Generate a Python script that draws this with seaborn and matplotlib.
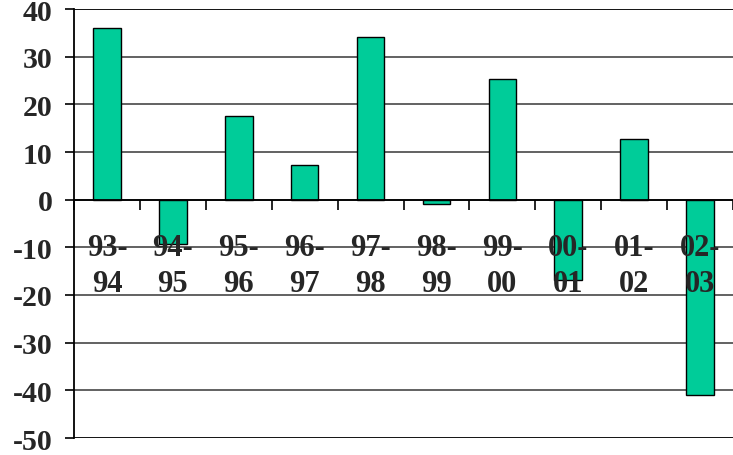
import numpy as np
import pandas as pd
import seaborn as sns
import matplotlib.pyplot as plt

# fiscal year labels and % change values
years = ["93-\n94", "94-\n95", "95-\n96", "96-\n97", "97-\n98",
         "98-\n99", "99-\n00", "00-\n01", "01-\n02", "02-\n03"]
values = [36.0, -9.2, 17.6, 7.3, 34.2, -1.0, 25.4, -16.8, 12.8, -40.9]
yticks = [-50, -40, -30, -20, -10, 0, 10, 20, 30, 40]

df = pd.DataFrame({"year": years, "value": values})

sns.set_style("white")
plt.rcParams["font.family"] = ["Liberation Serif", "DejaVu Serif"]
plt.rcParams["font.weight"] = "bold"

fig = plt.figure(figsize=(7.33, 4.56), dpi=100)
ax = fig.add_axes([74 / 733, 1 - 439 / 456, 659 / 733, 429 / 456])

# gridlines
for t in yticks:
    ax.axhline(t, color="#555555" if t not in (-50, 40) else "black",
               lw=1.3, zorder=0)

sns.barplot(data=df, x="year", y="value", color="#00CC99", width=0.42,
            edgecolor="black", linewidth=1, saturation=1, ax=ax, zorder=2)

ax.set_xlim(-0.5, len(years) - 0.5)
ax.set_ylim(-50, 40)
ax.set_xlabel("")
ax.set_ylabel("")
ax.set_axisbelow(False)  # labels sit on top of the bars

for s in ["top", "right"]:
    ax.spines[s].set_visible(False)
ax.spines["left"].set_color("black")
ax.spines["left"].set_linewidth(1.3)
ax.spines["bottom"].set_position(("data", 0))
ax.spines["bottom"].set_color("black")
ax.spines["bottom"].set_linewidth(1.3)

ax.set_yticks(yticks)
ax.set_yticklabels([str(t) for t in yticks], fontsize=21.5, fontweight="bold")
ax.tick_params(axis="y", direction="out", length=6.5, width=1.2, color="black", pad=9, left=True)

# category boundary ticks (no label) and centered labels
ax.set_xticks(np.arange(len(years) + 1) - 0.5)
ax.set_xticklabels([])
ax.set_xticks(np.arange(len(years)), minor=True)
ax.set_xticklabels(years, minor=True, fontsize=22, fontweight="bold", linespacing=1.3)
ax.tick_params(axis="x", which="major", direction="out", length=7, width=1.2, color="black", bottom=True)
ax.tick_params(axis="x", which="minor", length=0, pad=24)

fig.savefig("out.png", dpi=100)
